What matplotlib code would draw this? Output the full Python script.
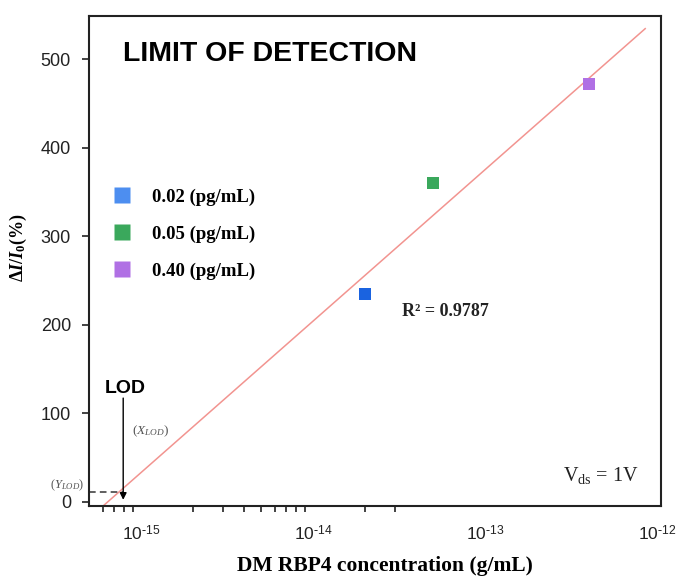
import numpy as np
import matplotlib
matplotlib.use("Agg")
import matplotlib.pyplot as plt
from matplotlib.lines import Line2D
from matplotlib.ticker import FixedLocator, FuncFormatter

# ---------------- data ----------------
labels = ["0.02 (pg/mL)", "0.05 (pg/mL)", "0.40 (pg/mL)"]
conc = [2e-14, 5e-14, 4e-13]            # g/mL
response = [235, 360, 472]               # dI/I0 (%)
point_colors = ["#1a63e0", "#3aa85c", "#b070e4"]
legend_colors = ["#4d8ef0", "#3aa85c", "#b070e4"]

fit_slope = 171.4                         # % per decade
fit_intercept = 2603.6                    # % at log10(x) = 0
fit_range = [6.05e-16, 8.5e-13]
r2_text = "R\u00b2 = 0.9787"

x_lod = 7.9e-16
y_lod = 11

xticks_major = [1e-15, 1e-14, 1e-13, 1e-12]
xticks_minor = [6e-16, 7e-16, 8e-16, 9e-16,
                2e-15, 3e-15, 4e-15, 5e-15, 6e-15, 7e-15, 8e-15, 9e-15,
                2e-14, 3e-14]
yticks = [0, 100, 200, 300, 400, 500]

# ---------------- style ----------------
plt.rcParams['mathtext.fontset'] = 'custom'
plt.rcParams['mathtext.rm'] = 'Liberation Serif'
plt.rcParams['mathtext.it'] = 'Liberation Serif:italic'
plt.rcParams['mathtext.bf'] = 'Liberation Serif:bold'
plt.rcParams['mathtext.bfit'] = 'Liberation Serif:italic:bold'
plt.rcParams['mathtext.sf'] = 'Liberation Sans'
plt.rcParams['font.family'] = ['Liberation Sans', 'DejaVu Sans']

fig = plt.figure(figsize=(6.83, 5.78), dpi=100)
ax = fig.add_axes([89/683, 1-506/578, 572/683, 490/578])

ax.set_xscale('log')
ax.set_xlim(5.0e-16, 1.05e-12)
ax.set_ylim(-5, 549)

# fit line
fx = np.logspace(np.log10(fit_range[0]), np.log10(fit_range[1]), 50)
fy = fit_intercept + fit_slope * np.log10(fx)
ax.plot(fx, fy, color='#f29490', lw=1.1, zorder=2)

# data points
ax.scatter(conc, response, marker='s', s=72, c=point_colors, zorder=3,
           edgecolors='none')

# legend
handles = [Line2D([], [], ls='none', marker='s', markersize=12,
                  markerfacecolor=c, markeredgecolor='none') for c in legend_colors]
leg = ax.legend(handles, labels, loc='upper left', bbox_to_anchor=(0.011, 0.682),
                frameon=False, handlelength=1.0, handletextpad=1.1,
                labelspacing=1.05,
                prop={'family': 'Liberation Serif', 'weight': 'bold', 'size': 13.5})

# LOD annotation
ax.plot([5.0e-16, x_lod], [y_lod, y_lod], ls=(0, (4, 2.5)), color='#444444', lw=1.2,
        zorder=2, clip_on=False)
ax.annotate('', xy=(x_lod, 2), xytext=(x_lod, 117),
            arrowprops=dict(arrowstyle='-|>', color='black', lw=1.0,
                            mutation_scale=10, shrinkA=0, shrinkB=0))
ax.text(x_lod * 1.03, 123, 'LOD', ha='center', va='baseline', fontsize=14,
        fontweight='bold', color='black')
ax.text(0.075, 0.153, r'$(X_{LOD})$', transform=ax.transAxes, ha='left',
        va='center', fontsize=9.5, color='#555555')
ax.text(-0.008, 0.043, r'$(Y_{LOD})$', transform=ax.transAxes, ha='right',
        va='center', fontsize=9, color='#555555')

# texts
ax.text(0.059, 0.922, 'LIMIT OF DETECTION', transform=ax.transAxes, ha='left',
        va='center', fontsize=20.5, fontweight='bold', color='black')
ax.text(0.547, 0.396, r2_text, transform=ax.transAxes, ha='left', va='center',
        fontsize=13, fontweight='bold', family='Liberation Serif', color='#222222')
ax.text(0.96, 0.063, r'$\mathrm{V_{ds}}$ = 1V', transform=ax.transAxes, ha='right',
        va='center', fontsize=14.5, family='Liberation Serif', color='#222222')

# axes labels
ax.set_xlabel('DM RBP4 concentration (g/mL)', family='Liberation Serif',
              fontweight='bold', fontsize=15.5)
ax.xaxis.set_label_coords(0.517, -0.123)
ax.xaxis.label.set_va('center')
ax.set_ylabel(r'$\mathbf{\Delta}\mathbfit{I}\mathbf{/}\mathbfit{I}_{\mathbf{0}}\mathbf{(\%)}$',
              fontsize=13)
ax.yaxis.set_label_coords(-0.124, 0.527)
ax.yaxis.label.set_va('center')


def log_fmt(v, pos):
    e = int(round(np.log10(v)))
    return r'10$^{\mathsf{\text{-}%d}}$' % abs(e) if e < 0 else r'10$^{\mathsf{%d}}$' % e


# ticks
ax.xaxis.set_major_locator(FixedLocator(xticks_major))
ax.xaxis.set_major_formatter(FuncFormatter(log_fmt))
ax.xaxis.set_minor_locator(FixedLocator(xticks_minor))
ax.set_yticks(yticks)
ax.tick_params(axis='x', which='major', length=0, pad=13, labelsize=12.5,
               labelcolor='#222222')
ax.tick_params(axis='x', which='minor', direction='out', length=4, width=1.2,
               color='#222222')
ax.tick_params(axis='y', direction='out', length=5, width=1.2, pad=8,
               labelsize=13, labelcolor='#222222', color='#222222')
for lab in ax.get_xticklabels() + ax.get_yticklabels():
    lab.set_family('Liberation Sans')

for sp in ax.spines.values():
    sp.set_linewidth(1.5)
    sp.set_color('#222222')

fig.savefig('out.png', dpi=100)
